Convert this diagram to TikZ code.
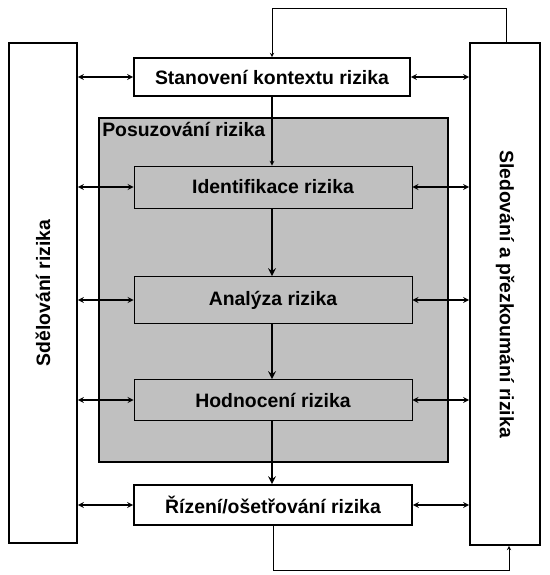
\documentclass[tikz,border=0pt]{standalone}
\usepackage{fontspec}
\setmainfont{Liberation Sans}
\definecolor{posgray}{HTML}{C0C0C0}
\begin{document}
\begin{tikzpicture}[x=1pt,y=-1pt,>=stealth,
    txt/.style={font=\bfseries\fontsize{19.4pt}{22pt}\selectfont},
    whitebox/.style={txt,draw,line width=1.8pt,fill=white,inner sep=0pt},
    graybox/.style={txt,draw,line width=0.9pt,fill=posgray,inner sep=0pt,
      minimum width=278pt},
    flow/.style={->,line width=2.4pt},
    link/.style={<->,line width=1.6pt}]
\useasboundingbox (0,0) rectangle (549,575);
% side boxes
\node[whitebox,minimum width=68pt,minimum height=500pt] (sdel) at (43,293) {};
\node[txt,rotate=90] at (sdel.center) {Sdělování rizika};
\node[whitebox,minimum width=70pt,minimum height=502pt] (sled) at (505,294) {};
\node[txt,rotate=-90] at (sled.center) {Sledování a přezkoumání rizika};
% risk assessment area
\node[draw,line width=1.8pt,fill=posgray,minimum width=349pt,minimum height=344pt,
  inner sep=0pt] (posuz) at (273.5,290) {};
\node[txt,anchor=north west,inner sep=0pt] (posuzlab) at ([xshift=4pt,yshift=-5pt]posuz.north west) {Posuzování rizika};
% process boxes
\node[whitebox,minimum width=276pt,minimum height=38pt] (kontext) at (272,77) {Stanovení kontextu rizika};
\node[graybox,minimum height=42pt] (ident) at (273,187) {Identifikace rizika};
\node[graybox,minimum height=47pt] (analyza) at (273,300) {Analýza rizika};
\node[graybox,minimum height=41pt] (hodnot) at (273,400) {Hodnocení rizika};
\node[whitebox,minimum width=278pt,minimum height=40pt] (rizeni) at (273,505) {Řízení/ošetřování rizika};
% main flow
\draw[->,line width=1.1pt] (kontext.south) -- (kontext.south |- ident.north);
\draw[flow] (ident.south -| kontext.south) -- (analyza.north -| kontext.south);
\draw[flow] (analyza.south -| kontext.south) -- (hodnot.north -| kontext.south);
\draw[flow] (hodnot.south -| kontext.south) -- (rizeni.north -| kontext.south);
% links to side boxes
\foreach \n in {kontext,ident,analyza,hodnot,rizeni} {
  \draw[link] (sdel.east |- \n.west) -- (\n.west);
  \draw[link] (\n.east) -- (sled.west |- \n.east);
}
% feedback loops
\coordinate (topR) at (506,8);
\coordinate (botR) at (509,570);
\draw[->,line width=0.9pt] (sled.north -| topR) -- (topR) -| (kontext.north);
\draw[->,line width=0.9pt] (rizeni.south) |- (botR) -- (sled.south -| botR);
\end{tikzpicture}
\end{document}
